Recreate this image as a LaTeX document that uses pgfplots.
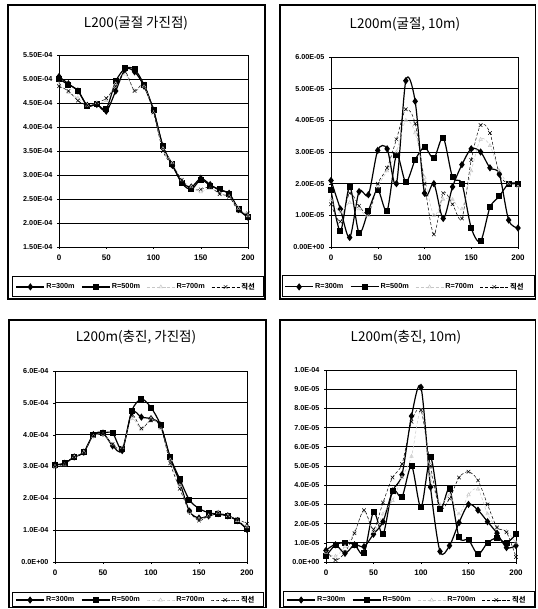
\documentclass[border=0pt]{standalone}
\usepackage{fontspec}
\setmainfont{Liberation Sans}
\newfontfamily\kr{Noto Sans CJK KR}
\usepackage{pgfplots}
\usepackage{pgfplotstable}
\pgfplotsset{compat=1.18}

\pgfplotstableread{
x r300 r500 r700 st
0 5.05e-4 5.00e-4 4.90e-4 4.85e-4
10 4.90e-4 4.88e-4 4.72e-4 4.75e-4
20 4.75e-4 4.76e-4 4.60e-4 4.55e-4
30 4.45e-4 4.44e-4 4.45e-4 4.45e-4
40 4.47e-4 4.47e-4 4.50e-4 4.50e-4
50 4.33e-4 4.38e-4 4.55e-4 4.60e-4
60 4.75e-4 4.95e-4 4.90e-4 4.85e-4
70 5.20e-4 5.22e-4 5.10e-4 5.15e-4
80 5.15e-4 5.20e-4 4.75e-4 4.75e-4
90 4.85e-4 4.88e-4 4.85e-4 4.90e-4
100 4.35e-4 4.35e-4 4.30e-4 4.30e-4
110 3.60e-4 3.60e-4 3.55e-4 3.50e-4
120 3.20e-4 3.22e-4 3.25e-4 3.20e-4
130 2.85e-4 2.83e-4 2.90e-4 2.90e-4
140 2.75e-4 2.70e-4 2.75e-4 2.70e-4
150 2.93e-4 2.90e-4 2.65e-4 2.70e-4
160 2.80e-4 2.78e-4 2.72e-4 2.75e-4
170 2.68e-4 2.70e-4 2.62e-4 2.60e-4
180 2.62e-4 2.60e-4 2.55e-4 2.55e-4
190 2.28e-4 2.30e-4 2.30e-4 2.25e-4
200 2.12e-4 2.12e-4 2.15e-4 2.20e-4
}\tA

\pgfplotstableread{
x r300 r500 r700 st
0 2.10e-5 1.80e-5 1.50e-5 1.35e-5
10 1.20e-5 0.50e-5 1.10e-5 0.80e-5
20 0.30e-5 1.90e-5 1.40e-5 1.70e-5
30 1.75e-5 0.45e-5 1.20e-5 1.30e-5
40 1.65e-5 1.15e-5 1.00e-5 1.05e-5
50 3.05e-5 1.80e-5 1.90e-5 2.00e-5
60 3.10e-5 1.15e-5 2.40e-5 2.50e-5
70 2.00e-5 2.90e-5 3.00e-5 3.40e-5
80 5.25e-5 2.05e-5 4.00e-5 4.35e-5
90 4.60e-5 2.75e-5 3.60e-5 3.90e-5
100 1.70e-5 3.15e-5 2.20e-5 2.00e-5
110 2.00e-5 2.80e-5 1.00e-5 0.40e-5
120 0.90e-5 3.45e-5 1.50e-5 1.70e-5
130 1.90e-5 2.20e-5 1.50e-5 1.35e-5
140 2.60e-5 2.00e-5 1.20e-5 0.90e-5
150 3.10e-5 0.60e-5 2.40e-5 2.75e-5
160 3.00e-5 0.18e-5 3.40e-5 3.85e-5
170 2.50e-5 1.25e-5 3.20e-5 3.60e-5
180 2.30e-5 1.60e-5 2.40e-5 2.30e-5
190 0.85e-5 2.00e-5 2.00e-5 2.00e-5
200 0.60e-5 2.00e-5 1.90e-5 2.00e-5
}\tB

\pgfplotstableread{
x r300 r500 r700 st
0 3.05e-4 3.05e-4 3.00e-4 3.00e-4
10 3.10e-4 3.10e-4 3.05e-4 3.08e-4
20 3.30e-4 3.30e-4 3.30e-4 3.30e-4
30 3.45e-4 3.45e-4 3.45e-4 3.42e-4
40 4.00e-4 4.00e-4 3.95e-4 3.98e-4
50 4.05e-4 4.05e-4 4.00e-4 4.02e-4
60 3.65e-4 4.05e-4 3.70e-4 3.70e-4
70 3.50e-4 3.55e-4 3.60e-4 3.55e-4
80 4.70e-4 4.75e-4 4.50e-4 4.60e-4
90 4.55e-4 5.12e-4 4.15e-4 4.20e-4
100 4.50e-4 4.85e-4 4.50e-4 4.45e-4
110 4.30e-4 4.30e-4 4.20e-4 4.25e-4
120 3.25e-4 3.30e-4 3.20e-4 3.10e-4
130 2.50e-4 2.60e-4 2.40e-4 2.30e-4
140 1.60e-4 1.95e-4 1.55e-4 1.60e-4
150 1.38e-4 1.68e-4 1.35e-4 1.30e-4
160 1.45e-4 1.55e-4 1.45e-4 1.45e-4
170 1.52e-4 1.50e-4 1.55e-4 1.55e-4
180 1.45e-4 1.45e-4 1.45e-4 1.42e-4
190 1.30e-4 1.30e-4 1.30e-4 1.35e-4
200 1.02e-4 1.05e-4 1.10e-4 1.20e-4
}\tC

\pgfplotstableread{
x r300 r500 r700 st
0 0.60e-5 0.30e-5 0.50e-5 0.60e-5
10 0.90e-5 0.90e-5 0.30e-5 0.10e-5
20 0.45e-5 1.00e-5 0.80e-5 0.50e-5
30 0.90e-5 0.90e-5 1.55e-5 1.50e-5
40 0.80e-5 0.45e-5 2.65e-5 2.70e-5
50 1.45e-5 2.60e-5 1.60e-5 1.70e-5
60 2.10e-5 1.45e-5 2.50e-5 3.10e-5
70 3.70e-5 3.70e-5 3.20e-5 4.40e-5
80 4.55e-5 3.40e-5 4.40e-5 5.10e-5
90 7.60e-5 5.00e-5 5.50e-5 7.30e-5
100 9.10e-5 2.85e-5 7.90e-5 7.90e-5
110 3.90e-5 5.45e-5 4.50e-5 5.00e-5
120 0.55e-5 2.75e-5 3.00e-5 2.80e-5
130 0.85e-5 3.80e-5 3.50e-5 3.30e-5
140 2.05e-5 1.30e-5 2.50e-5 4.40e-5
150 3.00e-5 1.15e-5 3.50e-5 4.70e-5
160 2.70e-5 0.40e-5 3.80e-5 4.25e-5
170 2.10e-5 1.00e-5 2.50e-5 3.00e-5
180 1.50e-5 1.25e-5 1.80e-5 1.80e-5
190 0.75e-5 1.00e-5 1.60e-5 1.55e-5
200 0.85e-5 1.45e-5 1.00e-5 0.26e-5
}\tD

\pgfplotsset{
  panel/.style={
    scale only axis,
    scaled y ticks=false,
    xmin=0, xmax=200, xtick={0,50,100,150,200},
    ymajorgrids,
    grid style={black, line width=0.9pt},
    axis line style={black, line width=0.9pt},
    tick align=outside, major tick length=2pt, tick style={black},
    xtick pos=bottom, ytick pos=left,
    yticklabel style={font=\bfseries\fontsize{7.2}{8}\selectfont, xshift=-1pt},
    xticklabel style={font=\bfseries\fontsize{8}{9}\selectfont, yshift=-2pt},
    /pgf/number format/assume math mode=true,
    legend columns=4,
    legend style={draw=none, fill=none, anchor=west, inner sep=1pt,
      font=\bfseries\fontsize{7.3}{8}\selectfont,
      nodes={inner sep=1.5pt},
      /tikz/every even column/.append style={column sep=5pt}},
    legend image code/.code={\draw[mark repeat=2,mark phase=2,##1] plot coordinates {(0pt,0pt)(14pt,0pt)(28pt,0pt)};},
  },
  s300/.style={black, line width=1.2pt, mark=diamond*, mark size=2.7pt, smooth, tension=0.5, mark options={solid}},
  s500/.style={black, line width=1.2pt, mark=square*, mark size=2.4pt, smooth, tension=0.5, mark options={solid}},
  s700/.style={black!22, line width=0.5pt, densely dashed, mark=triangle, mark size=2pt, smooth, tension=0.5, mark options={solid}},
  sst/.style={black, line width=0.5pt, densely dashed, mark=x, mark size=2.5pt, smooth, tension=0.5, mark options={solid}},
}

\begin{document}
\begin{tikzpicture}[x=1pt,y=1pt]
\path[use as bounding box] (0,0) rectangle (537,609);
% frames
\draw[line width=1.2pt] (8,604) rectangle (265,310);
\draw[line width=1pt] (12,609-277) rectangle (263,609-297);
\draw[line width=1.2pt] (280,604) rectangle (535.5,310);
\draw[line width=1pt] (282,609-276) rectangle (534.5,609-297);
\draw[line width=1.2pt] (9,289) rectangle (266,1.2);
\draw[line width=1pt] (12,609-593) rectangle (263,2.5);
\draw[line width=1.2pt] (280,289) rectangle (535.5,1.2);
\draw[line width=1pt] (283,609-592) rectangle (534.5,2.5);
% titles
\node[font=\kr\fontsize{13.5}{15}\selectfont] at (136,609-23) {L200(굴절 가진점)};
\node[font=\kr\fontsize{13.5}{15}\selectfont] at (405,609-24) {L200m(굴절, 10m)};
\node[font=\kr\fontsize{13.5}{15}\selectfont] at (136,609-337) {L200m(충진, 가진점)};
\node[font=\kr\fontsize{13.5}{15}\selectfont] at (406,609-337) {L200m(충진, 10m)};

\begin{axis}[panel, at={(59pt,362pt)}, anchor=south west, width=189pt, height=192pt,
  ymin=1.5e-4, ymax=5.5e-4,
  ytick={1.5e-4,2e-4,2.5e-4,3e-4,3.5e-4,4e-4,4.5e-4,5e-4,5.5e-4},
  yticklabels={1.50E-04,2.00E-04,2.50E-04,3.00E-04,3.50E-04,4.00E-04,4.50E-04,5.00E-04,5.50E-04},
  legend style={at={(-0.235,-0.208)}}]
\addplot[s300] table[x=x,y=r300]{\tA};
\addplot[s500] table[x=x,y=r500]{\tA};
\addplot[s700] table[x=x,y=r700]{\tA};
\addplot[sst] table[x=x,y=st]{\tA};
\legend{R=300m, R=500m, R=700m, {\kr 직선}}
\end{axis}

\begin{axis}[panel, at={(331pt,362pt)}, anchor=south west, width=187pt, height=190pt,
  ymin=0, ymax=6e-5,
  ytick={0,1e-5,2e-5,3e-5,4e-5,5e-5,6e-5},
  yticklabels={0.00E+00,1.00E-05,2.00E-05,3.00E-05,4.00E-05,5.00E-05,6.00E-05},
  legend style={at={(-0.255,-0.21)}}]
\addplot[s300] table[x=x,y=r300]{\tB};
\addplot[s500] table[x=x,y=r500]{\tB};
\addplot[s700] table[x=x,y=r700]{\tB};
\addplot[sst] table[x=x,y=st]{\tB};
\legend{R=300m, R=500m, R=700m, {\kr 직선}}
\end{axis}

\begin{axis}[panel, at={(55pt,47pt)}, anchor=south west, width=192pt, height=191pt,
  ymin=0, ymax=6e-4,
  ytick={0,1e-4,2e-4,3e-4,4e-4,5e-4,6e-4},
  yticklabels={0.0E+00,1.0E-04,2.0E-04,3.0E-04,4.0E-04,5.0E-04,6.0E-04},
  legend style={at={(-0.212,-0.199)}}]
\addplot[s300] table[x=x,y=r300]{\tC};
\addplot[s500] table[x=x,y=r500]{\tC};
\addplot[s700] table[x=x,y=r700]{\tC};
\addplot[sst] table[x=x,y=st]{\tC};
\legend{R=300m, R=500m, R=700m, {\kr 직선}}
\end{axis}

\begin{axis}[panel, at={(326pt,47pt)}, anchor=south west, width=190pt, height=192pt,
  ymin=0, ymax=1e-4,
  ytick={0,1e-5,2e-5,3e-5,4e-5,5e-5,6e-5,7e-5,8e-5,9e-5,1e-4},
  yticklabels={0.0E+00,1.0E-05,2.0E-05,3.0E-05,4.0E-05,5.0E-05,6.0E-05,7.0E-05,8.0E-05,9.0E-05,1.0E-04},
  legend style={at={(-0.214,-0.198)}}]
\addplot[s300] table[x=x,y=r300]{\tD};
\addplot[s500] table[x=x,y=r500]{\tD};
\addplot[s700] table[x=x,y=r700]{\tD};
\addplot[sst] table[x=x,y=st]{\tD};
\legend{R=300m, R=500m, R=700m, {\kr 직선}}
\end{axis}
\end{tikzpicture}
\end{document}
